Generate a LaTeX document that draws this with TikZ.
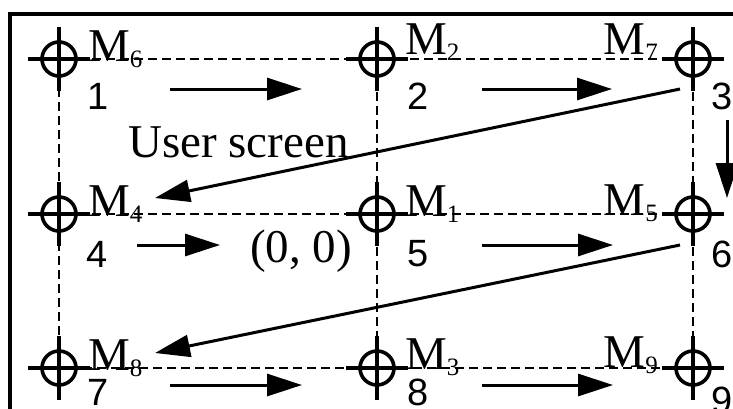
\documentclass[tikz,border=0pt]{standalone}
\usepackage{fontspec}
\setmainfont{Liberation Serif}
\setsansfont{Liberation Sans}
\usetikzlibrary{arrows.meta,positioning}
\newcommand{\Mk}[1]{M\raisebox{-6pt}{\fontsize{25}{25}\selectfont #1}}

\begin{document}
\begin{tikzpicture}[x=1pt, y=-1pt,
  target/.style={circle, draw, line width=3.6pt, minimum size=34pt, inner sep=0pt},
  hair/.style={line width=3.2pt},
  grid/.style={dash pattern=on 9pt off 5pt, line width=2.6pt},
  arrow/.style={-{Triangle[length=35pt,width=22pt]}, line width=3pt},
  mlabel/.style={font=\fontsize{47}{47}\selectfont, inner sep=0pt, anchor=base west},
  num/.style={font=\sffamily\fontsize{38}{38}\selectfont, inner sep=0pt},
  frame/.style={line width=3.6pt}
]
\useasboundingbox (0,0) rectangle (733,408);
\clip (0,0) rectangle (733,408);
\draw[frame] (10,14) rectangle (760,440);
% markers
\node[target] (m6) at (59,59) {};
\node[target] (m2) at (377,59) {};
\node[target] (m7) at (693,59) {};
\node[target] (m4) at (59,214) {};
\node[target] (m1) at (377,214) {};
\node[target] (m5) at (693,214) {};
\node[target] (m8) at (59,368) {};
\node[target] (m3) at (377,368) {};
\node[target] (m9) at (693,368) {};
\draw[grid] (m6) -- (m2) -- (m7) -- (m5) -- (m9) -- (m3) -- (m8) -- (m4) -- (m6);
\draw[grid] (m2) -- (m1) -- (m3);
\draw[grid] (m4) -- (m1) -- (m5);
\foreach \m in {m6,m2,m7,m4,m1,m5,m8,m3,m9} {
  \draw[hair] (\m.center) ++(-31,0) -- ++(62,0);
  \draw[hair] (\m.center) ++(0,-32) -- ++(0,64);
}
% labels
\node[mlabel] (l6) at (88,61) {\Mk{6}};
\node[mlabel] (l2) at (405,54) {\Mk{2}};
\node[mlabel, anchor=base east] (l7) at (658,54) {\Mk{7}};
\node[mlabel] (l4) at (88,216) {\Mk{4}};
\node[mlabel] (l1) at (405,216) {\Mk{1}};
\node[mlabel, anchor=base east] (l5) at (658,215) {\Mk{5}};
\node[mlabel] (l8) at (88,370) {\Mk{8}};
\node[mlabel] (l3) at (405,369) {\Mk{3}};
\node[mlabel, anchor=base east] (l9) at (658,367) {\Mk{9}};
\node[num] (n1) at (98,96) {1};
\node[num] (n2) at (418,96) {2};
\node[num] (n3) at (722,96) {3};
\node[num] (n4) at (97,254) {4};
\node[num] (n5) at (418,254) {5};
\node[num] (n6) at (722,254) {6};
\node[num] (n7) at (98,392) {7};
\node[num] (n8) at (418,392) {8};
\node[num] (n9) at (722,400) {9};
\node[mlabel] (screen) at (128,157) {User screen};
\node[mlabel, anchor=base] (origin) at (301,262) {(0, 0)};
% scan path
\coordinate (r1a) at (170,89);  \coordinate (r1b) at (302,89);
\coordinate (r1c) at (482,89);  \coordinate (r1d) at (612,89);
\coordinate (r2a) at (137,245); \coordinate (r2b) at (220,245);
\coordinate (r2c) at (482,245); \coordinate (r2d) at (613,245);
\coordinate (r3a) at (170,385); \coordinate (r3b) at (302,385);
\coordinate (r3c) at (482,385); \coordinate (r3d) at (613,385);
\coordinate (d1a) at (680,89);  \coordinate (d1b) at (155,198);
\coordinate (d2a) at (680,245); \coordinate (d2b) at (155,353);
\coordinate (va) at (727,120);  \coordinate (vb) at (727,198);
\draw[arrow] (r1a) -- (r1b);
\draw[arrow] (r1c) -- (r1d);
\draw[arrow] (r2a) -- (r2b);
\draw[arrow] (r2c) -- (r2d);
\draw[arrow] (r3a) -- (r3b);
\draw[arrow] (r3c) -- (r3d);
\draw[arrow] (d1a) -- (d1b);
\draw[arrow] (d2a) -- (d2b);
\draw[arrow] (va) -- (vb);
\end{tikzpicture}
\end{document}
